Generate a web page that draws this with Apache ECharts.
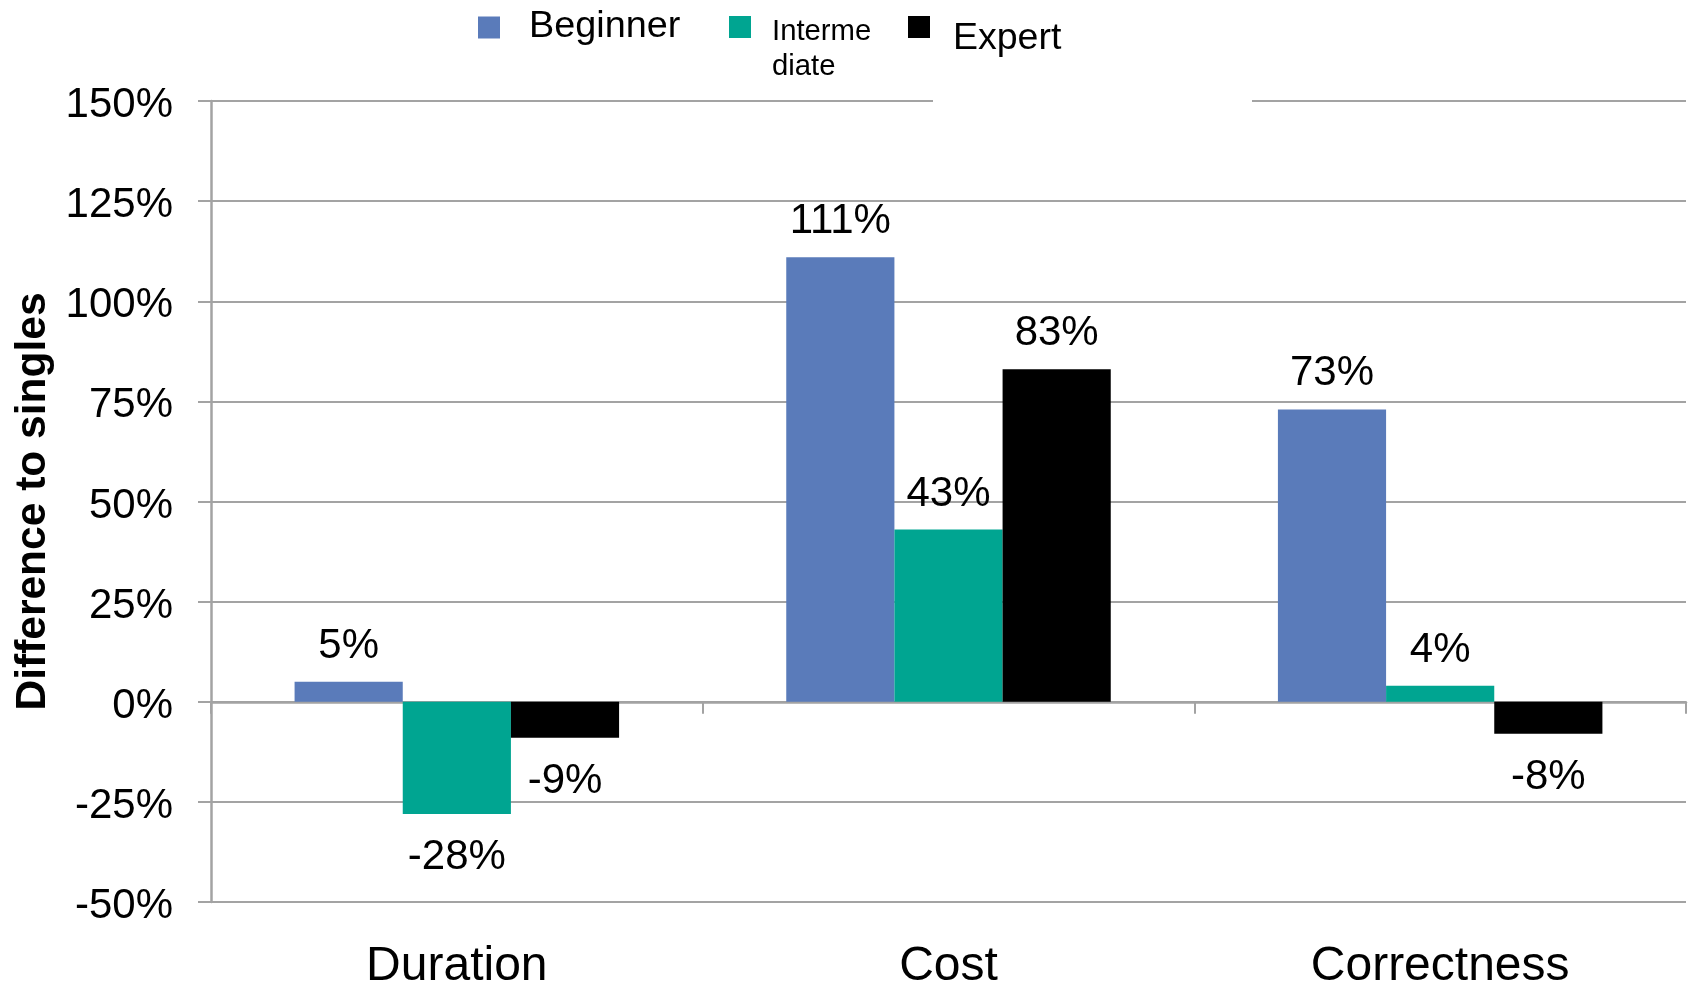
<!DOCTYPE html>
<html>
<head>
<meta charset="utf-8">
<script src="https://cdn.jsdelivr.net/npm/echarts@6/dist/echarts.min.js"></script>
<style>
html,body{margin:0;padding:0;background:#fff;}
#chart{width:1689px;height:987px;}
</style>
</head>
<body>
<div id="chart"></div>
<script>
const categories = ['Duration', 'Cost', 'Correctness'];
const seriesNames = ['Beginner', 'Intermediate', 'Expert'];
const beginner = [5, 111, 73];
const intermediate = [-28, 43, 4];
const expert = [-9, 83, -8];
const yTicks = { min: -50, max: 150, interval: 25 };

const colors = ['#5A7BBA', '#00A591', '#000000'];
const FONT = "'Liberation Sans', Arial, Helvetica, sans-serif";
const GRID = '#A3A3A3';

function toData(arr) {
  return arr.map(v => ({
    value: v,
    label: v < 0 ? { position: 'bottom', distance: 23 } : { position: 'top', distance: 14.5 }
  }));
}

const chart = echarts.init(document.getElementById('chart'), null, { renderer: 'canvas' });

function legendItem(name, left, top, icon, w, h, textStyle, formatter) {
  const l = {
    data: [name],
    left: left,
    top: top,
    padding: 0,
    itemWidth: w,
    itemHeight: h,
    icon: icon,
    selectedMode: false,
    textStyle: Object.assign({ fontFamily: FONT, color: '#000' }, textStyle)
  };
  if (formatter) l.formatter = formatter;
  return l;
}

const option = {
  backgroundColor: '#ffffff',
  animation: false,
  color: colors,
  grid: { left: 211, right: 3, top: 101, bottom: 85, containLabel: false, outerBoundsMode: 'none' },
  legend: [
    legendItem('Beginner', 478, 7.3, 'path://M0,0M0,2.4H22V24.4H0Z', 22, 24.4,
      { fontSize: 37.8, lineHeight: 37, padding: [0, 0, 0, 24] }),
    legendItem('Intermediate', 729, 14.8, 'path://M0,0H22V22H0ZM0,67', 22, 67,
      { fontSize: 29.3, lineHeight: 34.7, padding: [0, 0, 0, 16] }, () => 'Interme\ndiate'),
    legendItem('Expert', 908, 16, 'path://M0,0H22V22H0ZM0,44.6', 22, 44.6,
      { fontSize: 37.5, lineHeight: 36, padding: [0, 0, 0, 18] })
  ],
  xAxis: [
    {
      type: 'category',
      data: categories,
      axisLine: { onZero: true, lineStyle: { color: GRID, width: 2.5 } },
      axisTick: { show: true, length: 12, lineStyle: { color: GRID, width: 2 } },
      axisLabel: { show: false },
      splitLine: { show: false }
    },
    {
      type: 'category',
      data: categories,
      position: 'bottom',
      axisLine: { show: false, onZero: false },
      axisTick: { show: false },
      axisLabel: { show: true, margin: 41, fontSize: 48, fontFamily: FONT, color: '#000' },
      splitLine: { show: false }
    }
  ],
  yAxis: {
    type: 'value',
    min: yTicks.min,
    max: yTicks.max,
    interval: yTicks.interval,
    name: 'Difference to singles',
    nameLocation: 'middle',
    nameGap: 154,
    nameRotate: 90,
    nameTextStyle: { fontFamily: FONT, fontSize: 42.5, fontWeight: 'bold', color: '#000' },
    axisLine: { show: true, lineStyle: { color: GRID, width: 2.5 } },
    axisTick: { show: true, length: 13, lineStyle: { color: GRID, width: 2 } },
    axisLabel: {
      margin: 38, fontSize: 42, fontFamily: FONT, color: '#000', formatter: '{value}%',
      verticalAlign: 'top', lineHeight: 9
    },
    splitLine: { show: true, lineStyle: { color: GRID, width: 2 } }
  },
  graphic: [
    {
      type: 'rect',
      shape: { x: 933, y: 94, width: 319, height: 14 },
      style: { fill: '#ffffff' },
      z: 10,
      silent: true
    }
  ],
  series: [
    { name: seriesNames[0], data: toData(beginner) },
    { name: seriesNames[1], data: toData(intermediate) },
    { name: seriesNames[2], data: toData(expert) }
  ].map(s => Object.assign({
    type: 'bar',
    xAxisIndex: 0,
    barGap: '0%',
    barCategoryGap: '34%',
    label: {
      show: true,
      formatter: '{c}%',
      fontSize: 42,
      fontFamily: FONT,
      color: '#000'
    }
  }, s))
};

chart.setOption(option);
</script>
</body>
</html>
